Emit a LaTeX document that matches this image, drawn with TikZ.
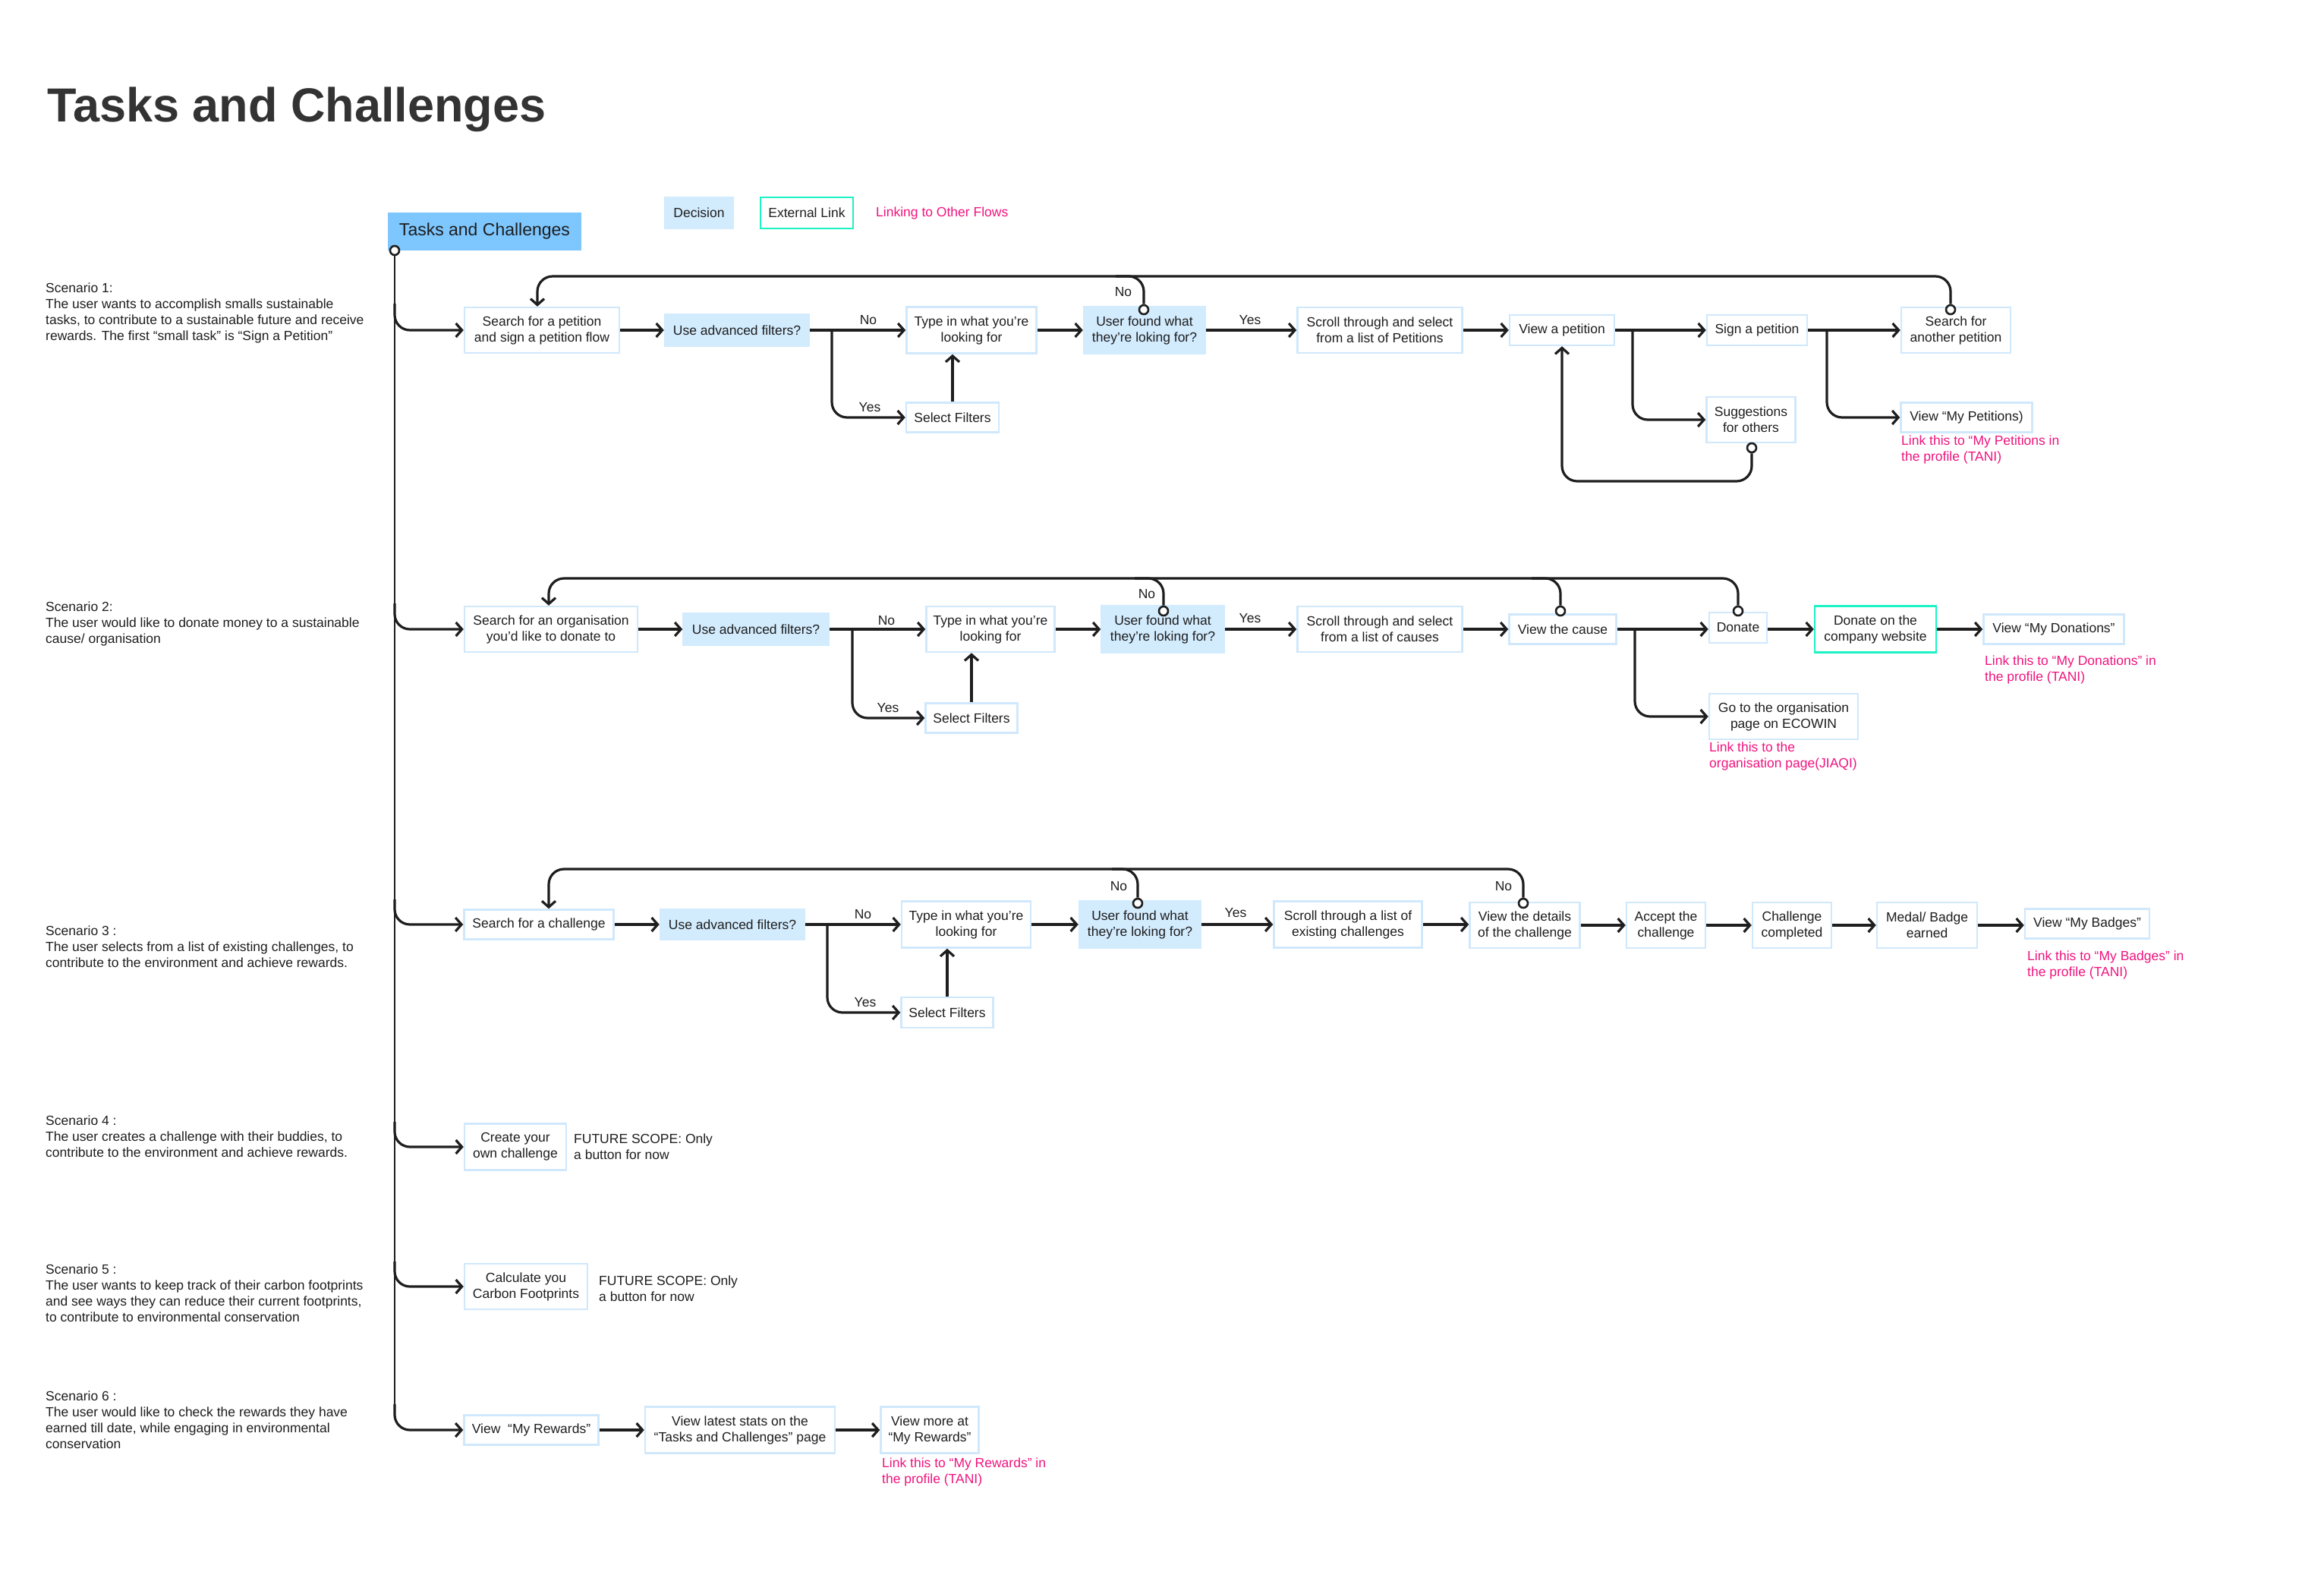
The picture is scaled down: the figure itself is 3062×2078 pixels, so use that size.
\documentclass[tikz,border=0pt]{standalone}
\usepackage{fontspec}
\setmainfont{Liberation Sans}
\usetikzlibrary{arrows.meta}
\definecolor{ink}{HTML}{1E1E1E}
\definecolor{boxblue}{HTML}{D0E8FC}
\definecolor{decblue}{HTML}{D2EBFD}
\definecolor{titleblue}{HTML}{7DC6FE}
\definecolor{extgreen}{HTML}{1CF3C4}
\definecolor{linkpink}{HTML}{F0147E}
\definecolor{headgray}{HTML}{333333}
\newcommand\txtsz{\fontsize{17.5}{21}\selectfont}
\begin{document}
\begin{tikzpicture}[x=1pt,y=-1pt,
 box/.style 2 args={draw=boxblue, line width=2.5pt, fill=white, align=center, inner sep=0pt, minimum width=#1, minimum height=#2, font=\txtsz, text=ink},
 dec/.style 2 args={box={#1}{#2}, fill=decblue, draw=decblue},
 ext/.style 2 args={box={#1}{#2}, draw=extgreen},
 lbl/.style={font=\txtsz, text=ink, inner sep=0pt},
 note/.style={font=\txtsz, text=ink, align=left, anchor=west, inner sep=0pt},
 pink/.style={font=\txtsz, text=linkpink, align=left, anchor=west, inner sep=0pt},
 flow/.style={draw=ink, line width=3.2pt, rounded corners=20pt, -{Straight Barb[length=8pt,width=18pt]}},
 link/.style={draw=ink, line width=3.2pt, rounded corners=20pt},
 spine/.style={draw=ink, line width=2.6pt},
 dot/.style={circle, draw=ink, line width=2.6pt, fill=white, minimum size=12pt, inner sep=0pt},
]
\fill[white] (0,0) rectangle (3062,2078);
\useasboundingbox (0,0) rectangle (3062,2078);

% heading and legend
\node[anchor=base west, font=\fontsize{63}{70}\bfseries\selectfont, text=headgray, inner sep=0pt] (head) at (62,160) {Tasks and Challenges};
\node[box={253}{48}, fill=titleblue, draw=titleblue, font=\fontsize{23}{27}\selectfont] (root) at (638.5,305) {Tasks and Challenges};
\node[dec={90}{41}] (legdec) at (921,280.5) {Decision};
\node[ext={122}{41}] (legext) at (1063,280.5) {External Link};
\node[pink] (leglink) at (1154,280.5) {Linking to Other Flows};

% scenario texts
\node[note] (sc1) at (60,412.5) {Scenario 1:\\The user wants to accomplish smalls sustainable\\tasks, to contribute to a sustainable future and receive\\rewards. The first “small task” is “Sign a Petition”};
\node[note] (sc2) at (60,822) {Scenario 2:\\The user would like to donate money to a sustainable\\cause/ organisation};
\node[note] (sc3) at (60,1247) {Scenario 3 :\\The user selects from a list of existing challenges, to\\contribute to the environment and achieve rewards.};
\node[note] (sc4) at (60,1497) {Scenario 4 :\\The user creates a challenge with their buddies, to\\contribute to the environment and achieve rewards.};
\node[note] (sc5) at (60,1704) {Scenario 5 :\\The user wants to keep track of their carbon footprints\\and see ways they can reduce their current footprints,\\to contribute to environmental conservation};
\node[note] (sc6) at (60,1870.5) {Scenario 6 :\\The user would like to check the rewards they have\\earned till date, while engaging in environmental\\conservation};

% ---------- row 1
\node[box={204}{60}] (s1search) at (714,435) {Search for a petition\\and sign a petition flow};
\node[dec={190}{41}] (s1dec) at (971,435) {Use advanced filters?};
\node[box={171}{61}] (s1type) at (1280,435) {Type in what you’re\\looking for};
\node[box={122}{39}] (s1filt) at (1255,550) {Select Filters};
\node[dec={160}{62}] (s1found) at (1508,435) {User found what\\they’re loking for?};
\node[box={217}{60}] (s1scroll) at (1818,435) {Scroll through and select\\from a list of Petitions};
\node[box={138}{40}] (s1view) at (2058,435) {View a petition};
\node[box={132}{40}] (s1sign) at (2315,435) {Sign a petition};
\node[box={117}{60}] (s1sugg) at (2307,553) {Suggestions\\for others};
\node[box={144}{60}] (s1again) at (2577,435) {Search for\\another petition};
\node[box={173}{39}] (s1mine) at (2591,550) {View “My Petitions)};
\node[pink] (p1) at (2505,592.5) {Link this to “My Petitions in\\the profile (TANI)};

\coordinate (b1) at (1096,435);
\coordinate (b2) at (2151,435);
\coordinate (b3) at (2407,435);
\coordinate (t1) at (1600,364);
\coordinate (j1) at (1470,364);
\coordinate (u1) at (2200,634);

\draw[flow] (s1search) -- (s1dec);
\draw[flow] (s1dec) -- (s1type);
\draw[flow] (b1) |- (s1filt.west);
\draw[flow] (s1filt.north) -- (s1filt.north |- s1type.south);
\draw[flow] (s1type) -- (s1found);
\draw[flow] (s1found) -- (s1scroll);
\draw[flow] (s1scroll) -- (s1view);
\draw[flow] (s1view) -- (s1sign);
\draw[flow] (b2) |- (s1sugg.west);
\draw[flow] (s1sign) -- (s1again);
\draw[flow] (b3) |- (s1mine.west);

\node[dot] (d1found) at (1507,408) {};
\node[dot] (d1again) at (2570,408) {};
\node[dot] (d1sugg) at (2308,590) {};
\draw[flow] (d1again.north) |- (t1) -| ([xshift=-6pt]s1search.north);
\draw[link] (d1found.north) |- (j1);
\draw[flow] (d1sugg.south) |- (u1) -| (s1view.south);

\node[lbl] at (1144,422) {No};
\node[lbl] at (1146,537) {Yes};
\node[lbl] at (1480,385) {No};
\node[lbl] at (1647,422) {Yes};

% ---------- row 2
\node[box={228}{60}] (s2search) at (726,829) {Search for an organisation\\you’d like to donate to};
\node[dec={191}{41}] (s2dec) at (996,829) {Use advanced filters?};
\node[box={169}{60}] (s2type) at (1305,829) {Type in what you’re\\looking for};
\node[box={121}{39}] (s2filt) at (1280,946) {Select Filters};
\node[dec={161}{62}] (s2found) at (1532,829) {User found what\\they’re loking for?};
\node[box={217}{60}] (s2scroll) at (1818,829) {Scroll through and select\\from a list of causes};
\node[box={141}{39}] (s2view) at (2059,829) {View the cause};
\node[box={76}{40}] (s2donate) at (2290,827) {Donate};
\node[ext={160}{61}] (s2web) at (2471,829) {Donate on the\\company website};
\node[box={185}{39}] (s2mine) at (2706,829) {View “My Donations”};
\node[box={196}{60}] (s2org) at (2350,944) {Go to the organisation\\page on ECOWIN};
\node[pink] (p2) at (2615,882.5) {Link this to “My Donations” in\\the profile (TANI)};
\node[pink] (p3) at (2252,996.5) {Link this to the\\organisation page(JIAQI)};

\coordinate (b4) at (1123,829);
\coordinate (b5) at (2154,829);
\coordinate (t2) at (1800,762);
\coordinate (j2) at (1495,762);
\coordinate (j3) at (2018,762);

\draw[flow] (s2search) -- (s2dec);
\draw[flow] (s2dec) -- (s2type);
\draw[flow] (b4) |- (s2filt.west);
\draw[flow] (s2filt.north) -- (s2filt.north |- s2type.south);
\draw[flow] (s2type) -- (s2found);
\draw[flow] (s2found) -- (s2scroll);
\draw[flow] (s2scroll) -- (s2view);
\draw[flow] (s2view.east) -- (s2view.east -| s2donate.west);
\draw[flow] (s2donate.east |- s2web.west) -- (s2web.west);
\draw[flow] (s2web) -- (s2mine);
\draw[flow] (b5) |- (s2org.west);

\node[dot] (d2found) at (1533,805) {};
\node[dot] (d2view) at (2056,805) {};
\node[dot] (d2donate) at (2290,805) {};
\draw[flow] (d2donate.north) |- (t2) -| ([xshift=-3pt]s2search.north);
\draw[link] (d2found.north) |- (j2);
\draw[link] (d2view.north) |- (j3);

\node[lbl] at (1168,818) {No};
\node[lbl] at (1170,933) {Yes};
\node[lbl] at (1511,783) {No};
\node[lbl] at (1647,815) {Yes};

% ---------- row 3
\node[box={197}{39}] (s3search) at (710,1218) {Search for a challenge};
\node[dec={190}{40}] (s3dec) at (965,1218) {Use advanced filters?};
\node[box={170}{61}] (s3type) at (1273,1218) {Type in what you’re\\looking for};
\node[box={121}{40}] (s3filt) at (1248,1334) {Select Filters};
\node[dec={160}{61}] (s3found) at (1502,1218) {User found what\\they’re loking for?};
\node[box={195}{61}] (s3scroll) at (1776,1218) {Scroll through a list of\\existing challenges};
\node[box={145}{60}] (s3details) at (2009,1219) {View the details\\of the challenge};
\node[box={104}{60}] (s3accept) at (2195,1219) {Accept the\\challenge};
\node[box={104}{60}] (s3done) at (2361,1219) {Challenge\\completed};
\node[box={132}{60}] (s3medal) at (2539,1219) {Medal/ Badge\\earned};
\node[box={164}{39}] (s3mine) at (2750,1217) {View “My Badges”};
\node[pink] (p4) at (2671,1271.5) {Link this to “My Badges” in\\the profile (TANI)};

\coordinate (b6) at (1090,1218);
\coordinate (t3) at (1800,1145);
\coordinate (j4) at (1465,1145);

\draw[flow] (s3search) -- (s3dec);
\draw[flow] (s3dec) -- (s3type);
\draw[flow] (b6) |- (s3filt.west);
\draw[flow] (s3filt.north) -- (s3filt.north |- s3type.south);
\draw[flow] (s3type) -- (s3found);
\draw[flow] (s3found.east) -- (s3found.east -| s3scroll.west);
\draw[flow] (s3scroll.east) -- (s3scroll.east -| s3details.west);
\draw[flow] (s3details) -- (s3accept);
\draw[flow] (s3accept) -- (s3done);
\draw[flow] (s3done) -- (s3medal);
\draw[flow] (s3medal.east) -- (s3medal.east -| s3mine.west);

\node[dot] (d3found) at (1499,1190) {};
\node[dot] (d3details) at (2007,1190) {};
\draw[flow] (d3details.north) |- (t3) -| ([xshift=13pt]s3search.north);
\draw[link] (d3found.north) |- (j4);

\node[lbl] at (1137,1205) {No};
\node[lbl] at (1140,1321) {Yes};
\node[lbl] at (1474,1168) {No};
\node[lbl] at (1628,1203) {Yes};
\node[lbl] at (1981,1168) {No};

% ---------- rows 4-6
\node[box={134}{61}] (s4create) at (679,1511) {Create your\\own challenge};
\node[note] (f4) at (756,1511) {FUTURE SCOPE: Only\\a button for now};
\node[box={162}{60}] (s5calc) at (693,1695) {Calculate you\\Carbon Footprints};
\node[note] (f5) at (789,1698) {FUTURE SCOPE: Only\\a button for now};
\node[box={177}{39}] (s6rew) at (700,1884) {View~~“My Rewards”};
\node[box={250}{61}] (s6stats) at (975,1884) {View latest stats on the\\“Tasks and Challenges” page};
\node[box={129}{61}] (s6more) at (1225,1884) {View more at\\“My Rewards”};
\node[pink] (p5) at (1162,1939.5) {Link this to “My Rewards” in\\the profile (TANI)};

\draw[flow] (s6rew) -- (s6stats);
\draw[flow] (s6stats) -- (s6more);

% ---------- spine
\node[dot] (start) at (520,330) {};
\coordinate (sp1) at (520,400);
\coordinate (sp2) at (520,795);
\coordinate (sp3) at (520,1185);
\coordinate (sp4) at (520,1478);
\coordinate (sp5) at (520,1662);
\coordinate (sp6) at (520,1850);
\draw[spine] (start.south) -- (sp6);
\draw[flow] (sp1) |- (s1search.west);
\draw[flow] (sp2) |- (s2search.west);
\draw[flow] (sp3) |- (s3search.west);
\draw[flow] (sp4) |- (s4create.west);
\draw[flow] (sp5) |- (s5calc.west);
\draw[flow] (sp6) |- (s6rew.west);
\end{tikzpicture}
\end{document}
